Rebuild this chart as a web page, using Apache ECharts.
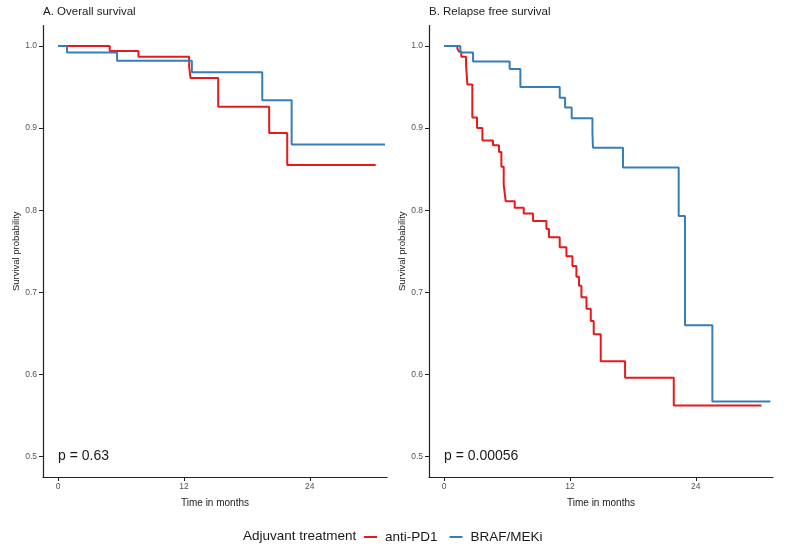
<!DOCTYPE html>
<html>
<head>
<meta charset="utf-8">
<script src="https://cdn.jsdelivr.net/npm/echarts@6/dist/echarts.min.js"></script>
<style>
html, body { margin: 0; padding: 0; background: #fff; }
#main { width: 787px; height: 551px; }
</style>
</head>
<body>
<div id="main"></div>
<script>
// A. overall survival (time in months, survival after each drop)
var osAntiTime = [0, 4.93, 7.67, 12.5, 12.63, 15.27, 20.13, 21.85, 30.28]
var osAntiSurv = [1, 0.994, 0.987, 0.975, 0.961, 0.926, 0.894, 0.855, 0.855]
var osBrafTime = [0, 0.86, 5.63, 12.76, 19.47, 22.27, 31.17]
var osBrafSurv = [1, 0.992, 0.982, 0.968, 0.934, 0.880, 0.880]

// B. relapse free survival
var rfsAntiTime = [0, 1.27, 1.45, 1.65, 2.1, 2.23, 2.7, 3.15, 3.66, 4.67, 5.24, 5.47, 5.69, 5.88,
  6.74, 7.6, 8.49, 9.76, 10.01, 11.03, 11.67, 12.24, 12.62, 12.87, 13.1, 13.58, 13.99, 14.27,
  14.94, 17.26, 21.9, 30.26]
var rfsAntiSurv = [1, 0.997, 0.993, 0.987, 0.977, 0.953, 0.913, 0.9, 0.885, 0.879, 0.871, 0.853, 0.831, 0.811,
  0.803, 0.796, 0.787, 0.777, 0.767, 0.755, 0.744, 0.732, 0.719, 0.708, 0.694, 0.68, 0.665, 0.649,
  0.616, 0.596, 0.562, 0.562]
var rfsBrafTime = [0, 1.56, 2.77, 6.26, 7.28, 11.03, 11.54, 12.17, 14.15, 14.2, 17.06, 22.37, 22.97, 25.58, 31.11]
var rfsBrafSurv = [1, 0.992, 0.981, 0.972, 0.95, 0.937, 0.925, 0.912, 0.894, 0.876, 0.852, 0.793, 0.66, 0.567, 0.567]

var timeTicks = [0, 12, 24]
var survTicks = [0.5, 0.6, 0.7, 0.8, 0.9, 1.0]
var groupNames = ['anti-PD1', 'BRAF/MEKi']
var groupColors = ['#E41A1C', '#377EB8']
var panelTitles = ['A. Overall survival', 'B. Relapse free survival']
var pValues = ['p = 0.63', 'p = 0.00056']

var font = '"Liberation Sans", Arial, sans-serif'
var panelLeft = [43, 429]

function pairs(t, s) {
  var out = []
  for (var i = 0; i < t.length; i++) out.push([t[i], s[i]])
  return out
}

function xAx(i) {
  return {
    type: 'value', gridIndex: i, min: -1.43, max: 31.36,
    name: 'Time in months', nameLocation: 'middle', nameGap: 21,
    nameTextStyle: { fontFamily: font, fontSize: 10, color: '#1a1a1a' },
    axisLine: { show: true, onZero: false, lineStyle: { color: '#222', width: 1.2 } },
    axisTick: { show: true, length: 4, customValues: timeTicks, lineStyle: { color: '#222' } },
    axisLabel: { customValues: timeTicks, margin: 5, fontFamily: font, fontSize: 8.5, color: '#555' },
    splitLine: { show: false },
  }
}

function yAx(i) {
  return {
    type: 'value', gridIndex: i, min: 0.475, max: 1.025,
    name: 'Survival probability', nameLocation: 'middle', nameGap: 19, nameRotate: 90,
    nameTextStyle: { fontFamily: font, fontSize: 9.5, color: '#1a1a1a' },
    axisLine: { show: true, onZero: false, lineStyle: { color: '#222', width: 1.2 } },
    axisTick: { show: true, length: 4, customValues: survTicks, lineStyle: { color: '#222' } },
    axisLabel: {
      customValues: survTicks, margin: 6, fontFamily: font, fontSize: 8.5, color: '#555',
      formatter: function (v) { return v.toFixed(1) },
    },
    splitLine: { show: false },
  }
}

function curve(name, idx, data, color) {
  return {
    name: name, type: 'line', step: 'end', xAxisIndex: idx, yAxisIndex: idx,
    data: data, showSymbol: false, symbol: 'none',
    lineStyle: { color: color, width: 2 }, itemStyle: { color: color },
  }
}

var chartDom = document.getElementById('main')
var myChart = echarts.init(chartDom)

var option = {
  animation: false,
  backgroundColor: '#fff',
  title: panelTitles.map(function (t, i) {
    return { text: t, left: panelLeft[i], top: 6, padding: 0,
      textStyle: { fontFamily: font, fontSize: 11.5, fontWeight: 'normal', color: '#1a1a1a' } }
  }),
  grid: [
    { left: 43, top: 25.5, width: 344, height: 451.5 },
    { left: 429, top: 25.5, width: 344, height: 451.5 },
  ],
  xAxis: [xAx(0), xAx(1)],
  yAxis: [yAx(0), yAx(1)],
  legend: {
    data: groupNames, left: 364, top: 530, padding: 0, itemWidth: 13, itemHeight: 2, itemGap: 12,
    icon: 'rect',
    textStyle: { fontFamily: font, fontSize: 13.5, color: '#1a1a1a', padding: [0, 0, 0, 3] },
  },
  series: [
    curve(groupNames[0], 0, pairs(osAntiTime, osAntiSurv), groupColors[0]),
    curve(groupNames[1], 0, pairs(osBrafTime, osBrafSurv), groupColors[1]),
    curve(groupNames[0], 1, pairs(rfsAntiTime, rfsAntiSurv), groupColors[0]),
    curve(groupNames[1], 1, pairs(rfsBrafTime, rfsBrafSurv), groupColors[1]),
  ],
}

myChart.setOption(option)

// p-values and the legend title
var graphics = [{
  type: 'text', left: 243, top: 529,
  style: { text: 'Adjuvant treatment', font: '13.5px ' + font, fill: '#1a1a1a' },
}]
for (var i = 0; i < 2; i++) {
  var pt = myChart.convertToPixel({ gridIndex: i }, [0, 0.5])
  graphics.push({
    type: 'text', x: pt[0], y: pt[1],
    style: { text: pValues[i], font: '14px ' + font, fill: '#1a1a1a', textVerticalAlign: 'middle' },
  })
}
myChart.setOption({ graphic: graphics })

window.addEventListener('resize', function () {
  myChart.resize()
})
</script>
</body>
</html>
